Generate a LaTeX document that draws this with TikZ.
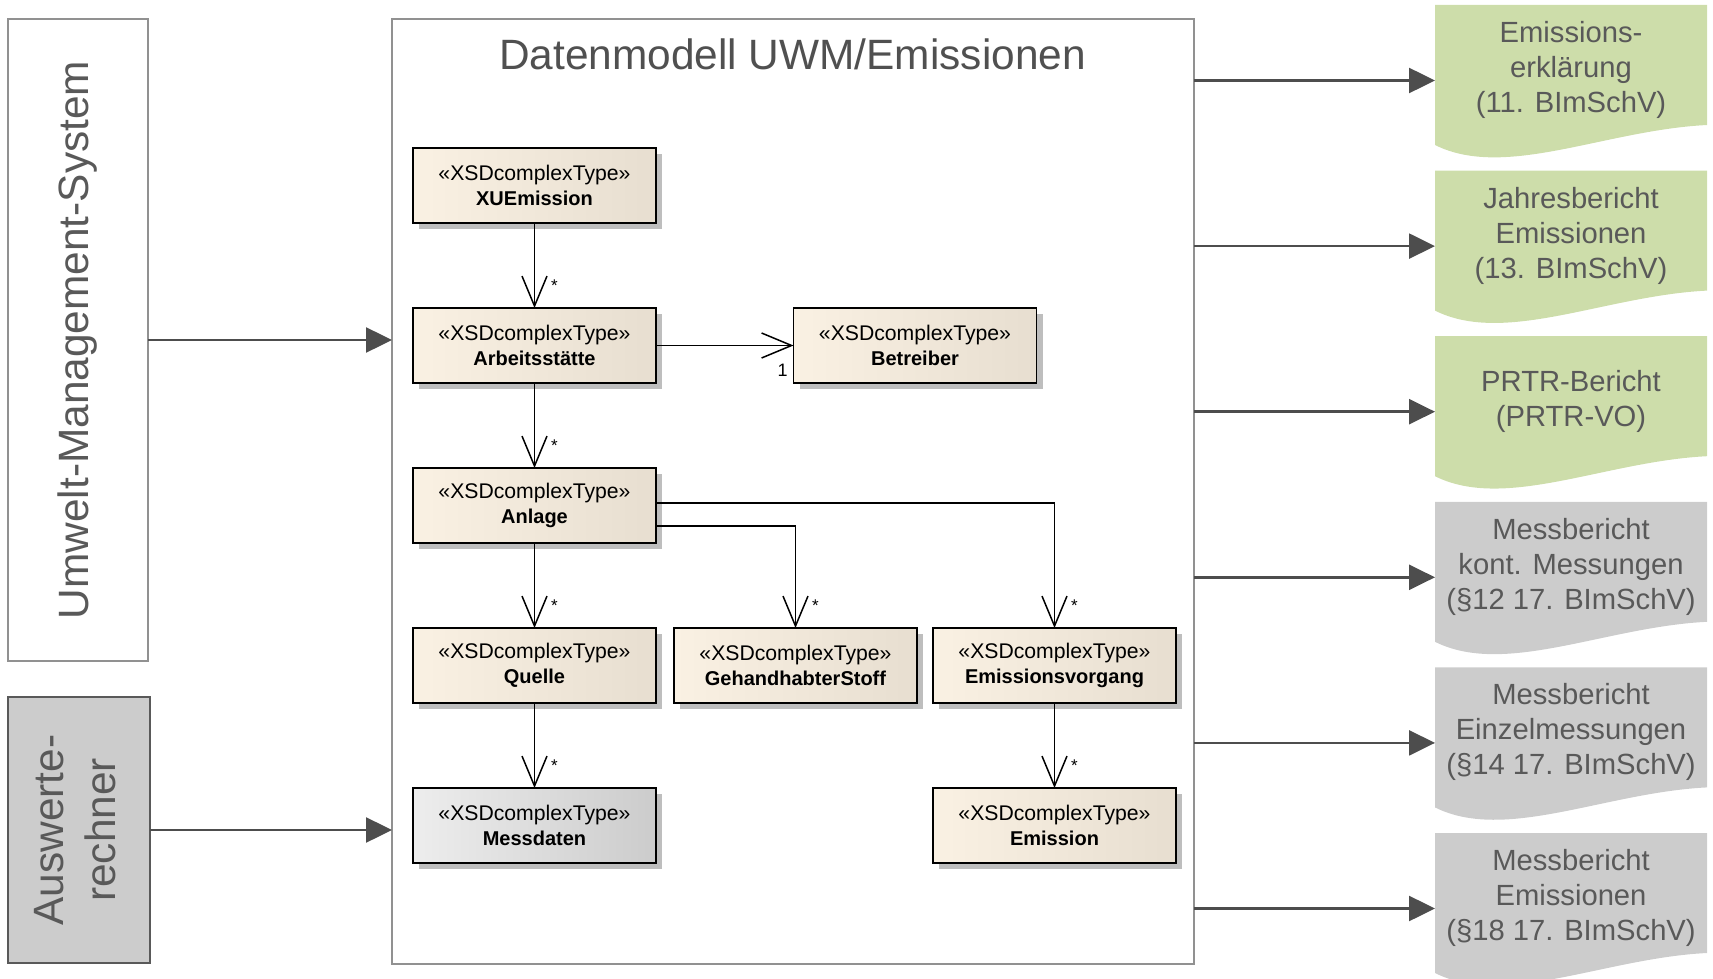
\documentclass[tikz,border=0pt]{standalone}
\usepackage{fontspec}
\setmainfont{Liberation Sans}
\usetikzlibrary{arrows.meta,shadows,calc}
\definecolor{docgreen}{RGB}{205,221,170}
\definecolor{docgray}{RGB}{204,204,204}
\definecolor{txtgray}{RGB}{89,89,89}
\definecolor{titlegray}{RGB}{80,80,80}
\definecolor{arrowgray}{RGB}{77,77,77}
\definecolor{framegray}{RGB}{145,145,145}
\definecolor{umlL}{RGB}{250,241,227}
\definecolor{umlR}{RGB}{231,222,208}
\definecolor{messL}{RGB}{237,237,237}
\definecolor{messR}{RGB}{204,204,204}
\definecolor{shadowgray}{RGB}{190,190,190}
\newcommand{\stereo}{{\fontsize{10.6}{12.5}\selectfont «XSDcomplexType»}}
\begin{document}
\begin{tikzpicture}[x=0.5pt,y=-0.5pt,
  umlbox/.style={draw=black, line width=0.9pt, left color=umlL, right color=umlR,
    minimum width=121.5pt, minimum height=37.5pt, inner sep=0pt, outer sep=0pt,
    align=center, font=\fontsize{10}{12.5}\selectfont,
    drop shadow={shadow xshift=3pt, shadow yshift=-3pt, fill=shadowgray, opacity=1}},
  messbox/.style={umlbox, left color=messL, right color=messR},
  assoc/.style={draw=black, line width=0.75pt, -{Straight Barb[length=15pt,width=12.5pt]}},
  mult/.style={font=\fontsize{8.5}{9}\selectfont, inner sep=0pt},
  onelab/.style={font=\fontsize{9}{10}\selectfont, inner sep=0pt},
  outarrow/.style={draw=arrowgray, line width=1.25pt, -{Triangle[length=13pt,width=12.5pt]}},
  docanchor/.style={minimum width=136pt, minimum height=75.5pt, inner sep=0pt, outer sep=0pt},
  doctext/.style={align=center, text=txtgray, font=\fontsize{14.6}{17.5}\selectfont, inner sep=0pt},
  sidetext/.style={text=txtgray, font=\fontsize{21.2}{26}\selectfont}
]
\useasboundingbox (0,0) rectangle (1713,979);

% main frame
\node[draw=framegray, line width=1pt, fill=white, minimum width=401pt, minimum height=472.5pt,
  inner sep=0pt, outer sep=0pt] (frame) at (793,491.5) {};
\node[anchor=base, text=titlegray, font=\fontsize{21.2}{25}\selectfont, inner sep=0pt] (title) at (792.5,70) {Datenmodell UWM/Emissionen};

% left boxes
\node[draw=framegray, line width=1pt, fill=white, minimum width=70pt, minimum height=321pt,
  inner sep=0pt, outer sep=0pt, sidetext] (ums) at (78,340) {\rotatebox{90}{Umwelt-Management-System}};
\node[draw=txtgray, line width=1pt, fill=docgray, minimum width=71pt, minimum height=133pt,
  inner sep=0pt, outer sep=0pt, sidetext] (aus) at (79,830)
  {\rotatebox{90}{\fontsize{21.2}{26}\selectfont\begin{tabular}{@{}c@{}}Auswerte-\\rechner\end{tabular}}};
\draw[outarrow] (ums.east) -- (ums.east -| frame.west);
\draw[outarrow] (aus.east) -- (aus.east -| frame.west);

% UML classes
\node[umlbox] (xue) at (534.5,185.5) {\stereo\\\textbf{XUEmission}};
\node[umlbox] (arb) at (534.5,345.5) {\stereo\\\textbf{Arbeitsstätte}};
\node[umlbox] (betr) at (915,345.5) {\stereo\\\textbf{Betreiber}};
\node[umlbox] (anl) at (534.5,505.5) {\stereo\\\textbf{Anlage}};
\node[umlbox] (quelle) at (534.5,665.5) {\stereo\\\textbf{Quelle}};
\node[umlbox] (geh) at (795.5,665.5) {\stereo\\\textbf{GehandhabterStoff}};
\node[umlbox] (emv) at (1054.5,665.5) {\stereo\\\textbf{Emissionsvorgang}};
\node[messbox] (mess) at (534.5,825.5) {\stereo\\\textbf{Messdaten}};
\node[umlbox] (emi) at (1054.5,825.5) {\stereo\\\textbf{Emission}};

% associations
\draw[assoc] (xue.south) -- (arb.north) node[mult, at end, xshift=10pt, yshift=11pt] (m1) {*};
\draw[assoc] (arb.east) -- (betr.west) node[onelab, at end, xshift=-5.5pt, yshift=-12.5pt] (m2) {1};
\draw[assoc] (arb.south) -- (anl.north) node[mult, at end, xshift=10pt, yshift=11pt] (m3) {*};
\draw[assoc] (anl.south) -- (quelle.north) node[mult, at end, xshift=10pt, yshift=11pt] (m4) {*};
\draw[assoc] ([yshift=-10.25pt]anl.east) -| (geh.north) node[mult, at end, xshift=10pt, yshift=11pt] (m5) {*};
\draw[assoc] ([yshift=1.25pt]anl.east) -| (emv.north) node[mult, at end, xshift=10pt, yshift=11pt] (m6) {*};
\draw[assoc] (quelle.south) -- (mess.north) node[mult, at end, xshift=10pt, yshift=11pt] (m7) {*};
\draw[assoc] (emv.south) -- (emi.north) node[mult, at end, xshift=10pt, yshift=11pt] (m8) {*};

% output documents
\foreach \i/\T/\col/\txt in {
  1/5/docgreen/{Emissions-\\erklärung\\(11. BImSchV)},
  2/170.6/docgreen/{Jahresbericht\\Emissionen\\(13. BImSchV)},
  3/336.2/docgreen/{PRTR-Bericht\\(PRTR-VO)},
  4/501.8/docgray/{Messbericht\\kont. Messungen\\(§12 17. BImSchV)},
  5/667.4/docgray/{Messbericht\\Einzelmessungen\\(§14 17. BImSchV)},
  6/833/docgray/{Messbericht\\Emissionen\\(§18 17. BImSchV)}}
{
  \fill[\col] (1435,\T) -- (1707,\T) -- (1707,\T+120)
     .. controls (1605,\T+125) and (1505,\T+175) .. (1435,\T+140) -- cycle;
  \node[docanchor] (d\i) at (1571,\T+75.5) {};
  \node[doctext] (t\i) at (1571,\T+65) {\txt};
  \draw[outarrow] (frame.east |- d\i.west) -- (d\i.west);
}
\end{tikzpicture}
\end{document}
